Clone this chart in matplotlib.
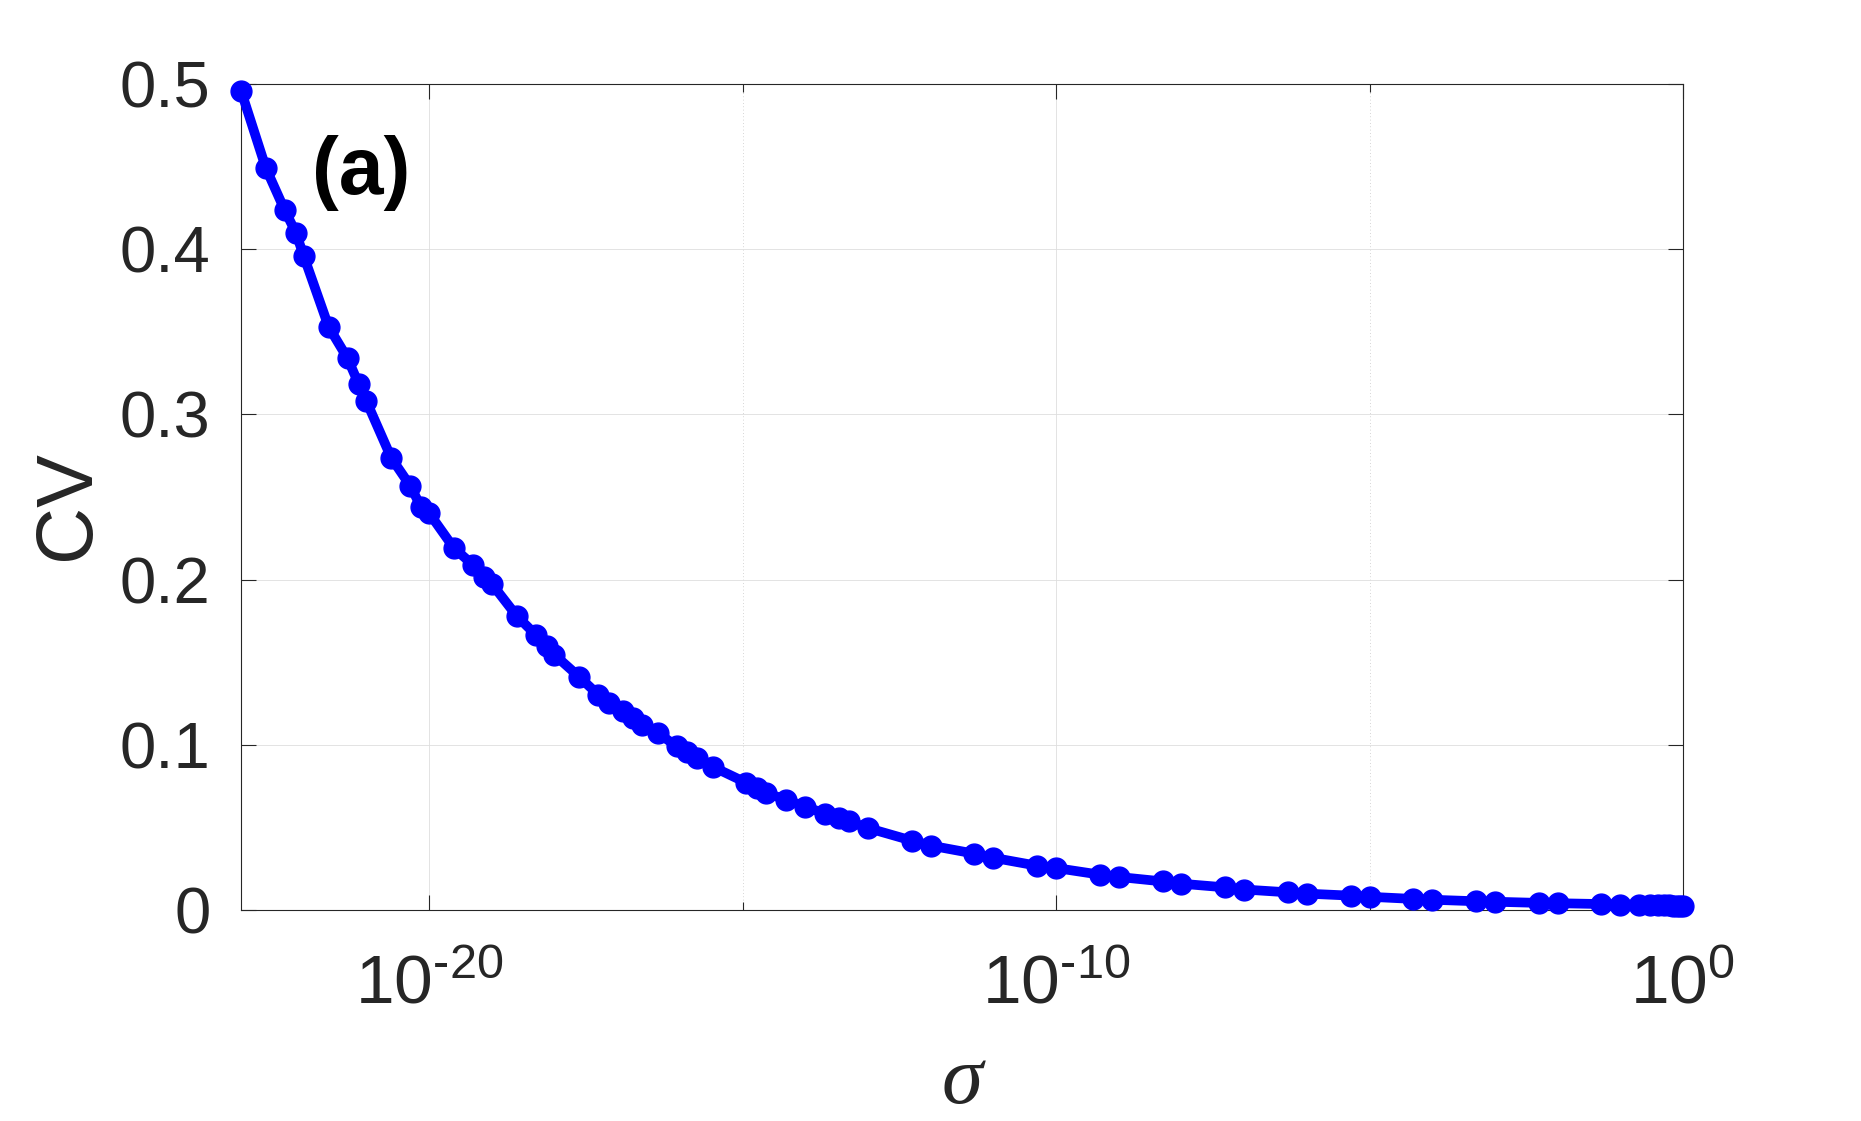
import matplotlib
matplotlib.use("Agg")
import matplotlib.pyplot as plt
from matplotlib.ticker import FixedLocator, FixedFormatter

# ---- data ----
sigma = [1e-23, 2.5e-23, 5e-23, 7.5e-23,
         1e-22, 2.5e-22, 5e-22, 7.5e-22,
         1e-21, 2.5e-21, 5e-21, 7.5e-21,
         1e-20, 2.5e-20, 5e-20, 7.5e-20,
         1e-19, 2.5e-19, 5e-19, 7.5e-19,
         1e-18, 2.5e-18, 5e-18, 7.5e-18,
         1.25e-17, 1.8e-17, 2.5e-17, 4.5e-17,
         9e-17, 1.3e-16, 1.9e-16, 3.4e-16,
         1.15e-15, 1.7e-15, 2.4e-15, 4.9e-15,
         1e-14, 2.1e-14, 3.5e-14, 5e-14,
         1e-13, 5e-13, 1e-12, 5e-12, 1e-11, 5e-11, 1e-10, 5e-10,
         1e-9, 5e-9, 1e-8, 5e-8, 1e-7, 5e-7, 1e-6, 5e-6,
         1e-5, 5e-5, 1e-4, 5e-4, 1e-3, 5e-3, 1e-2, 5e-2,
         0.1, 0.2, 0.3, 0.4, 0.5, 0.6, 0.7, 0.8, 0.9, 1.0]
cv = [0.496, 0.449, 0.4235, 0.410,
      0.396, 0.353, 0.334, 0.3186,
      0.308, 0.2736, 0.2568, 0.2437,
      0.2403, 0.219, 0.209, 0.2015,
      0.1975, 0.178, 0.1667, 0.1596,
      0.1545, 0.141, 0.1303, 0.1253,
      0.1202, 0.1165, 0.112, 0.107,
      0.099, 0.0955, 0.092, 0.0866,
      0.077, 0.0738, 0.0708, 0.0668,
      0.0625, 0.0583, 0.0557, 0.0536,
      0.0496, 0.042, 0.039, 0.0341, 0.0316, 0.0268, 0.0254, 0.0214,
      0.0200, 0.0173, 0.0159, 0.0137, 0.0124, 0.0107, 0.0099, 0.0087,
      0.0080, 0.0067, 0.0062, 0.0053, 0.0050, 0.0043, 0.0041, 0.0036,
      0.0033, 0.0031, 0.0030, 0.0029, 0.0028, 0.0028, 0.0027, 0.0026, 0.0026, 0.0025]

x_major = [1e-20, 1e-10, 1e0]
x_major_labels = ['$\\mathregular{10^{\u2010 20}}$', '$\\mathregular{10^{\u2010 10}}$', r'$\mathregular{10^{0}}$']
x_minor = [1e-15, 1e-5]
y_ticks = [0, 0.1, 0.2, 0.3, 0.4, 0.5]
y_tick_labels = ['0', '0.1', '0.2', '0.3', '0.4', '0.5']

plt.rcParams['font.family'] = ['Liberation Sans', 'DejaVu Sans']
plt.rcParams['mathtext.fontset'] = 'custom'
plt.rcParams['mathtext.rm'] = 'Liberation Sans'
plt.rcParams['mathtext.it'] = 'Liberation Sans:italic'

W, H = 1861, 1121
fig = plt.figure(figsize=(W / 100, H / 100), dpi=100)
l, r, t, b = 241, 1683, 84, 910
ax = fig.add_axes([l / W, 1 - b / H, (r - l) / W, (b - t) / H])

ax.plot(sigma, cv, '-o', color='#0000ff', lw=7, ms=15, mfc='#0000ff', mec='#0000ff',
        clip_on=False, zorder=3)

ax.set_xscale('log')
ax.set_xlim(1e-23, 1e0)
ax.set_ylim(0, 0.5)

ax.xaxis.set_major_locator(FixedLocator(x_major))
ax.xaxis.set_major_formatter(FixedFormatter(x_major_labels))
ax.xaxis.set_minor_locator(FixedLocator(x_minor))
ax.xaxis.set_minor_formatter(FixedFormatter(['', '']))
ax.yaxis.set_major_locator(FixedLocator(y_ticks))
ax.yaxis.set_major_formatter(FixedFormatter(y_tick_labels))

tc = '#262626'
ax.tick_params(which='major', direction='in', length=10.5, width=0.8, color=tc,
               labelcolor=tc, labelsize=47, top=True, right=True)
ax.tick_params(axis='x', which='major', pad=31, labelsize=50)
ax.tick_params(axis='y', which='major', pad=22)
ax.tick_params(which='minor', direction='in', length=5.5, width=0.8, color=tc,
               top=True, right=False)
ax.tick_params(axis='y', which='minor', left=False, right=False)

for s in ax.spines.values():
    s.set_color(tc)
    s.set_linewidth(0.8)

ax.grid(True, which='major', color='#dedede', lw=0.6, zorder=0)
ax.grid(True, which='minor', axis='x', color='#c8c8c8', lw=0.6, ls=(0, (1, 3)), zorder=0)
ax.set_axisbelow(True)

ax.text(0.049, 0.892, '(a)', transform=ax.transAxes, fontsize=58, fontweight='bold',
        ha='left', va='center', color='black')

fig.text(68 / W, 1 - 505 / H, 'CV', rotation=90, fontsize=57, color=tc,
         ha='center', va='center')
fig.text(962 / W, 1 - 1083 / H, 'σ', fontsize=60, color=tc, style='italic',
         family=['Liberation Serif', 'DejaVu Serif'], ha='center', va='center')

fig.savefig('out.png', dpi=100)
